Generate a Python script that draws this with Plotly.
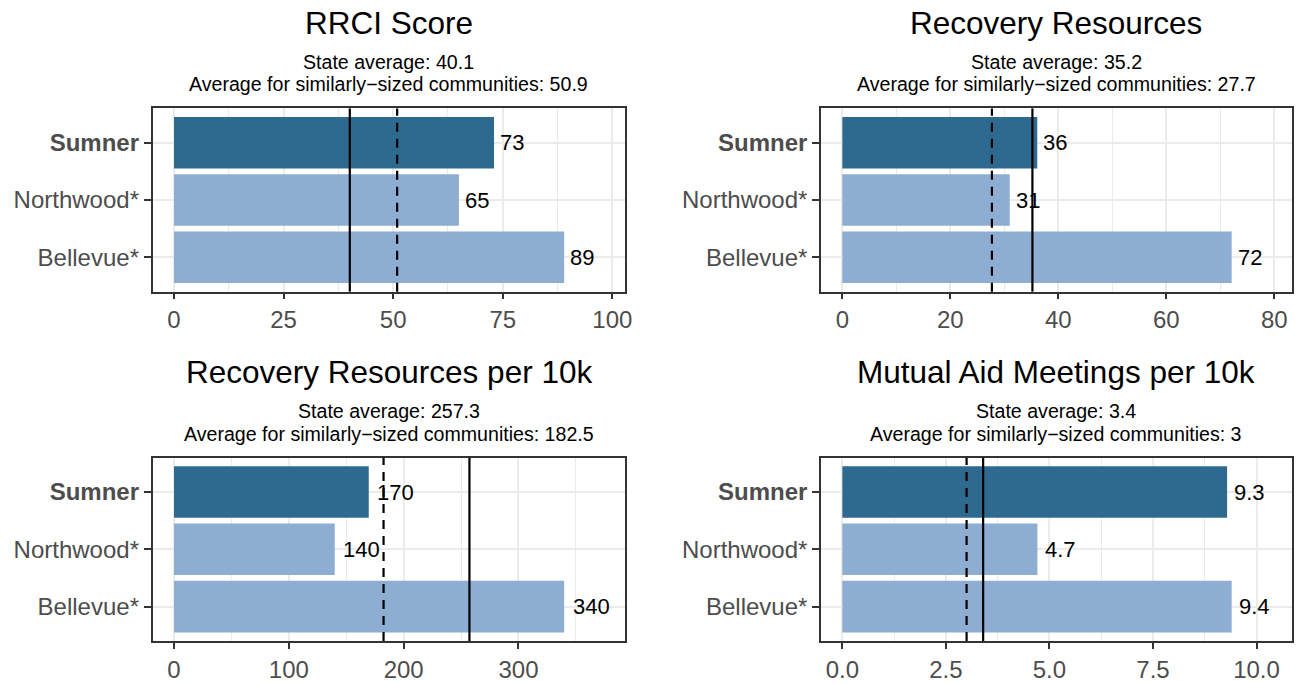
import plotly.graph_objects as go

# ---------------- data ----------------
communities = ["Sumner", "Northwood*", "Bellevue*"]
highlight = "Sumner"
panel_titles = ["RRCI Score", "Recovery Resources",
                "Recovery Resources per 10k", "Mutual Aid Meetings per 10k"]
rrci_score = [73.0, 65.0, 89.0]
recovery_resources = [36.1, 31.0, 72.1]
resources_per_10k = [169.6, 140.0, 339.8]
meetings_per_10k = [9.29, 4.71, 9.40]
state_avg = [40.1, 35.2, 257.3, 3.4]
similar_avg = [50.9, 27.7, 182.5, 3.0]
tick_steps = [25, 20, 100, 2.5]
tick_formats = ["d", "d", "d", ".1f"]

panel_values = [rrci_score, recovery_resources, resources_per_10k, meetings_per_10k]

# ---------------- style ----------------
W, H = 1301, 683
FONT = "Liberation Sans, Arial, Helvetica, sans-serif"
DARK = "#2E6A8F"
LIGHT = "#8DAED2"
GRID = "#EBEBEB"
BORDER = "#333333"
AXTXT = "#4D4D4D"
AX_SIZE = 24
LAB_SIZE = 22
TITLE_SIZE = 31.5
SUB_SIZE = 19.6

x_domains = [[153.5 / W, 628.5 / W], [826.0 / W, 1300.0 / W]]
rows_px = [(110.0, 296.0), (464.5, 650.5)]


def signif2(v):
    from math import floor, log10
    d = 2 - int(floor(log10(abs(v)))) - 1
    r = round(v, d)
    if d <= 0:
        return str(int(r))
    return f"{r:.{d}f}"


def text_width(s, size):
    w = 0
    for ch in s:
        w += 0.278 if ch == "." else 0.556
    return w * size


fig = go.Figure()
shapes = []
annotations = []
layout_axes = {}

for i in range(4):
    r, c = divmod(i, 2)
    idx = "" if i == 0 else str(i + 1)
    xd = x_domains[c]
    top_px, bot_px = rows_px[r]
    yd = [1 - bot_px / H, 1 - top_px / H]
    vals = panel_values[i]
    colors = [DARK if n == highlight else LIGHT for n in communities]

    fig.add_trace(go.Bar(
        x=vals, y=communities, orientation="h", width=0.9,
        marker=dict(color=colors, line=dict(width=0)),
        xaxis="x" + idx, yaxis="y" + idx, showlegend=False, hoverinfo="x+y",
    ))

    L = 1.1 * max(vals)
    layout_axes["xaxis" + idx] = dict(
        domain=xd, anchor="y" + idx, range=[-0.05 * L, 1.05 * L],
        tick0=0, dtick=tick_steps[i], tickformat=tick_formats[i],
        showgrid=True, gridcolor=GRID, gridwidth=1.8,
        minor=dict(tick0=0, dtick=tick_steps[i] / 2, showgrid=True,
                   gridcolor=GRID, gridwidth=0.9),
        zeroline=False, showline=True, linecolor=BORDER, linewidth=1.5,
        mirror=True, ticks="outside", ticklen=6, tickwidth=1.5,
        tickcolor=BORDER, tickfont=dict(size=AX_SIZE, color=AXTXT, family=FONT),
        fixedrange=True,
    )
    layout_axes["yaxis" + idx] = dict(
        domain=yd, anchor="x" + idx, type="category",
        categoryorder="array", categoryarray=communities[::-1],
        range=[-0.6, 2.6],
        tickvals=communities,
        ticktext=[f"<b>{n}</b>" if n == highlight else n for n in communities],
        showgrid=True, gridcolor=GRID, gridwidth=1.8,
        zeroline=False, showline=True, linecolor=BORDER, linewidth=1.5,
        mirror=True, ticks="outside", ticklen=7, tickwidth=1.5,
        tickcolor=BORDER, tickfont=dict(size=AX_SIZE, color=AXTXT, family=FONT),
        ticklabelstandoff=0, fixedrange=True,
    )

    # bar value labels
    for n, v in zip(communities, vals):
        lab = signif2(v)
        annotations.append(dict(
            x=v, y=n, xref="x" + idx, yref="y" + idx, text=lab,
            showarrow=False, xanchor="left", yanchor="middle",
            xshift=0.2 * text_width(lab, LAB_SIZE) - 1,
            font=dict(size=LAB_SIZE, color="black", family=FONT),
        ))

    # reference lines
    shapes.append(dict(type="line", xref="x" + idx, yref=f"y{idx} domain",
                       x0=state_avg[i], x1=state_avg[i], y0=0, y1=1,
                       line=dict(color="black", width=2.2), layer="above"))
    shapes.append(dict(type="line", xref="x" + idx, yref=f"y{idx} domain",
                       x0=similar_avg[i], x1=similar_avg[i], y0=0, y1=1,
                       line=dict(color="black", width=2.2, dash="9px,7px"),
                       layer="above"))

    # titles and subtitles
    cx = (xd[0] + xd[1]) / 2
    off = top_px - rows_px[0][0]
    annotations.append(dict(
        x=cx, y=1 - (23 + off) / H, xref="paper", yref="paper",
        text=panel_titles[i], showarrow=False, xanchor="center", yanchor="middle",
        font=dict(size=TITLE_SIZE, color="black", family=FONT),
    ))
    annotations.append(dict(
        x=cx, y=1 - (62.5 + off) / H, xref="paper", yref="paper",
        text=f"State average: {state_avg[i]:g}", showarrow=False,
        xanchor="center", yanchor="middle",
        font=dict(size=SUB_SIZE, color="black", family=FONT),
    ))
    annotations.append(dict(
        x=cx, y=1 - (85.5 + off) / H, xref="paper", yref="paper",
        text=f"Average for similarly\u2212sized communities: {similar_avg[i]:g}",
        showarrow=False, xanchor="center", yanchor="middle",
        font=dict(size=SUB_SIZE, color="black", family=FONT),
    ))

fig.update_layout(
    width=W, height=H, margin=dict(l=0, r=0, t=0, b=0),
    paper_bgcolor="white", plot_bgcolor="white",
    font=dict(family=FONT), bargap=0.1,
    shapes=shapes, annotations=annotations, **layout_axes,
)

fig.write_html(
    "out.html",
    config={"displayModeBar": False},
    post_script="document.body.style.margin='0px';document.body.style.overflow='hidden';",
)
